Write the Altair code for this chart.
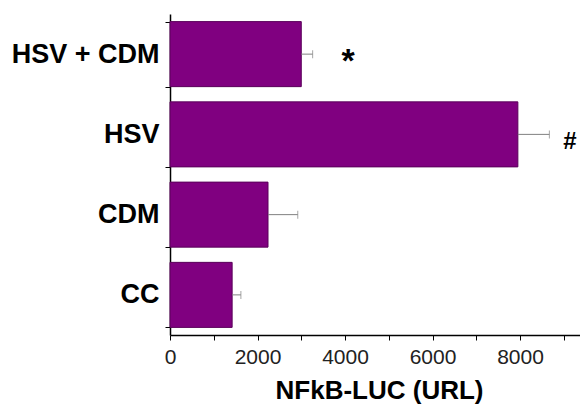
import altair as alt
import pandas as pd

groups = ["HSV + CDM", "HSV", "CDM", "CC"]
means = [3000, 7950, 2240, 1420]
errors = [260, 720, 680, 200]
sig_marks = ["*", "#"]
sig_groups = ["HSV + CDM", "HSV"]
sig_x = [4070, 9140]
sig_size = [34, 24]
x_ticks = list(range(0, 9001, 500))

df = pd.DataFrame({"group": groups, "mean": means, "err": errors})
df["hi"] = df["mean"] + df["err"]
sig = pd.DataFrame({"group": sig_groups, "x": sig_x, "label": sig_marks, "size": sig_size})

FONT = "Liberation Sans"

x_scale = alt.Scale(domain=[0, 9370], nice=False, zero=True)
y_scale = alt.Scale(domain=groups, paddingInner=0.19, paddingOuter=0.095)

x_axis = alt.Axis(
    values=x_ticks,
    labelExpr="datum.value % 2000 == 0 ? format(datum.value, 'd') : ''",
    title="NFkB-LUC (URL)",
    titleFont=FONT, titleFontSize=26, titleFontWeight="bold", titleColor="#000000",
    titleBaseline="alphabetic", titleY=63, titleX=209,
    labelFont=FONT, labelFontSize=21, labelColor="#222222", labelPadding=6,
    tickSize=5, tickColor="#000000", domainColor="#000000", domainWidth=1.5,
    grid=False, labelFlush=False, labelOverlap=False,
)
y_axis = alt.Axis(
    title=None, tickBand="extent",
    labelFont=FONT, labelFontSize=27, labelFontWeight="bold", labelColor="#000000",
    labelPadding=6, tickSize=5, tickColor="#000000", domainColor="#000000", domainWidth=1.5,
    grid=False,
)

bars = alt.Chart(df).mark_bar(color="#800080", stroke="#5a005a", strokeWidth=1).encode(
    x=alt.X("mean:Q", scale=x_scale, axis=x_axis),
    y=alt.Y("group:N", scale=y_scale, axis=y_axis, sort=groups),
)
rules = alt.Chart(df).mark_rule(color="#808080", strokeWidth=1).encode(
    x="mean:Q", x2="hi:Q", y=alt.Y("group:N", sort=groups),
)
caps = alt.Chart(df).mark_tick(color="#808080", thickness=1, size=8).encode(
    x="hi:Q", y=alt.Y("group:N", sort=groups),
)
texts = alt.Chart(sig).mark_text(font=FONT, fontWeight="bold", color="#000000", baseline="middle", dy=8).encode(
    x="x:Q", y=alt.Y("group:N", sort=groups), text="label:N",
    size=alt.Size("size:Q", scale=None, legend=None),
)

chart = alt.layer(bars, rules, caps, texts).properties(
    width=410, height=321,
    autosize=alt.AutoSizeParams(type="none"),
    padding={"left": 162, "top": 6, "right": 0, "bottom": 69},
).configure_view(stroke=None)

chart.save("out.html", embed_options={"renderer": "svg", "actions": False})
